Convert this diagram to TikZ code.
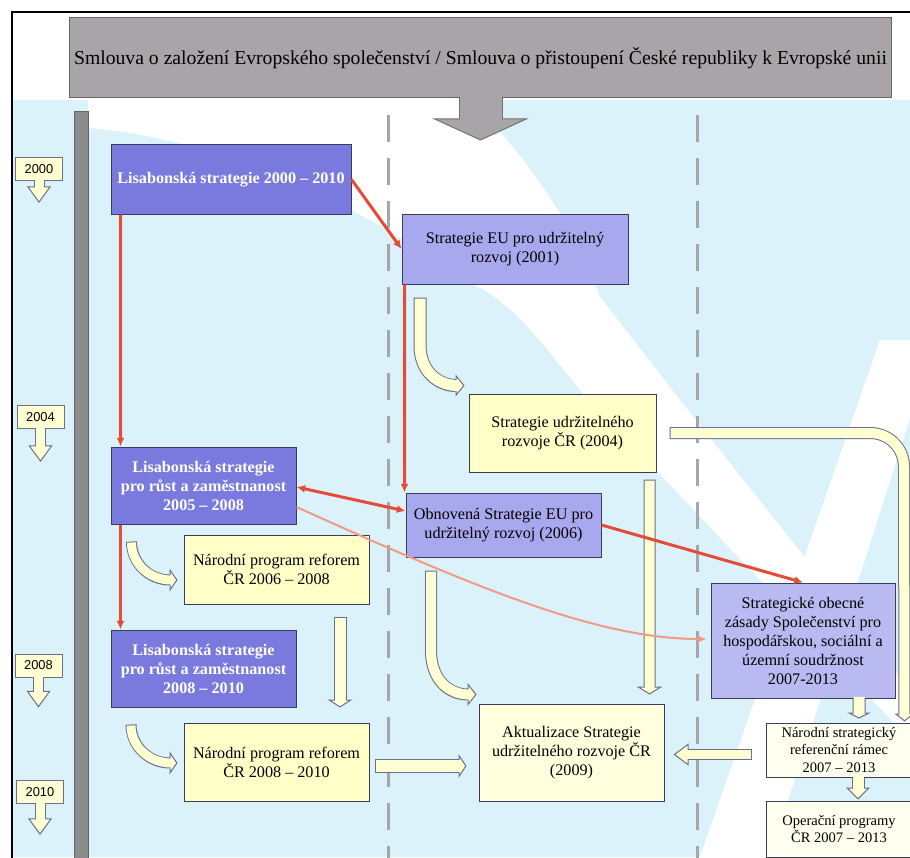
\documentclass[tikz,border=0pt]{standalone}
\usepackage{fontspec}
\setmainfont{Liberation Serif}
\newfontfamily\yearfont{Liberation Sans}
\usepackage{tikz}
\usetikzlibrary{arrows.meta,calc}

\definecolor{bgblue}{RGB}{220,242,251}
\definecolor{bannergray}{RGB}{168,164,168}
\definecolor{bargray}{RGB}{140,140,140}
\definecolor{lisblue}{RGB}{122,122,222}
\definecolor{eulav}{RGB}{168,168,238}
\definecolor{sozlav}{RGB}{186,186,243}
\definecolor{cryellow}{RGB}{255,255,200}
\definecolor{paleyellow}{RGB}{255,255,222}
\definecolor{ivory}{RGB}{255,255,240}
\definecolor{boxline}{RGB}{60,60,90}
\definecolor{arrowline}{RGB}{110,110,140}
\definecolor{arrowfill}{RGB}{255,255,212}
\definecolor{strongred}{RGB}{230,75,55}
\definecolor{softred}{RGB}{240,155,135}
\definecolor{dashgray}{RGB}{165,165,172}

\newcommand{\boxfont}{\fontsize{13.8}{16.2}\selectfont}
\newcommand{\smallboxfont}{\fontsize{12.4}{14.6}\selectfont}
\newcommand{\bannerfont}{\fontsize{16.8}{20}\selectfont}

\tikzset{
	plainbox/.style={draw=boxline, line width=0.3mm, inner sep=0pt, align=center, font=\boxfont},
	lisbox/.style={plainbox, fill=lisblue, text=white, font=\boxfont\bfseries},
	eubox/.style={plainbox, fill=eulav},
	sozbox/.style={plainbox, fill=sozlav},
	crbox/.style={plainbox, fill=cryellow},
	akbox/.style={plainbox, fill=paleyellow},
	nsbox/.style={plainbox, fill=ivory, font=\smallboxfont},
	banner/.style={draw=black!60, fill=bannergray, line width=0.3mm, inner sep=0pt, font=\bannerfont},
	yearbox/.style={draw=arrowline, fill=arrowfill, line width=0.3mm, inner sep=0pt, minimum width=14.1mm, minimum height=6.9mm, font=\yearfont\fontsize{11}{12}\selectfont},
	blockarr/.style n args={4}{draw=arrowline, line width=#1, -{Triangle[length=#3, width=#2, line width=0.3mm, fill=arrowfill]},
		postaction={draw=arrowfill, line width=#1-0.6mm, -, shorten >=#3-0.45mm, shorten <=#4}},
	redarrow/.style={draw=strongred, line width=0.9mm, -{Latex[length=2.6mm,width=2.4mm]}},
	redpair/.style={draw=strongred, line width=0.9mm, {Latex[length=2.6mm,width=2.4mm]}-{Latex[length=2.6mm,width=2.4mm]}},
	pinkarrow/.style={draw=softred, line width=0.6mm, -{Latex[length=2.6mm,width=2.4mm]}},
	dashline/.style={draw=dashgray, line width=0.9mm, dash pattern=on 8.1mm off 4.8mm}
}

\begin{document}
\begin{tikzpicture}[x=0.3mm,y=-0.3mm]

	\useasboundingbox (0,0) rectangle (910,857);
	\clip (0,0) rectangle (910,857);
	\fill[white] (0,0) rectangle (910,857);
	\fill[bgblue] (12,100) rectangle (910,857);

	\fill[white] (88,100) -- (470,100) .. controls (540,170) and (580,240) .. (600,297) -- (680,400) -- (910,690) -- (910,740)
		-- (760,580) -- (580,390) .. controls (540,340) and (510,300) .. (470,283) -- (383,227) .. controls (280,170) and (180,135) .. (88,128) -- cycle;
	\fill[white] (880,340) -- (935,340) -- (770,857) -- (700,857) -- cycle;

	\foreach \xx in {388,697}
		\draw[dashline] (\xx,115) -- (\xx,870);
	\draw[draw=black!60, fill=bargray, line width=0.3mm] (74,112) rectangle (88,870);
	\draw[line width=0.6mm] (12,870) -- (12,12) -- (920,12);

	\node[banner, minimum width=246.3mm, minimum height=24mm] (treaty) at (480.5,58) {Smlouva o založení Evropského společenství / Smlouva o přistoupení České republiky k Evropské unii};
	\draw[draw=black!55, line width=13.2mm, -{Triangle[length=6.6mm, width=28.8mm, line width=0.3mm, fill=bannergray]},
		postaction={draw=bannergray, line width=12.6mm, -, shorten >=6.15mm, shorten <=-0.3mm}] (treaty.south) -- ++(0,42);

	\foreach \yr/\xx/\yy/\ln in {2000/39/169/22,2004/40.5/417/33,2008/38.5/665.5/30,2010/40/792/31}{
		\node[yearbox] (y\yr) at (\xx,\yy) {\yr};
		\draw[blockarr={3.3mm}{7.2mm}{5mm}{-0.5mm}] (y\yr.south) -- ++(0,\ln);
	}

	\node[lisbox, minimum width=72mm, minimum height=20.7mm] (ls1) at (231,179.5) {Lisabonská strategie 2000 – 2010};
	\node[eubox, minimum width=67.8mm, minimum height=21mm] (seu) at (515,249) {Strategie EU pro udržitelný\\rozvoj (2001)};
	\node[crbox, minimum width=56.1mm, minimum height=23.4mm] (sur) at (562.5,433) {Strategie udržitelného\\rozvoje ČR (2004)};
	\node[lisbox, minimum width=55.5mm, minimum height=23.1mm] (ls2) at (203.5,485.5) {Lisabonská strategie\\pro růst a zaměstnanost\\2005 – 2008};
	\node[eubox, minimum width=58.5mm, minimum height=19.2mm] (oseu) at (503.5,525) {Obnovená Strategie EU pro\\udržitelný rozvoj (2006)};
	\node[crbox, minimum width=55.5mm, minimum height=20.7mm] (npr1) at (276.5,569.5) {Národní program reforem\\ČR 2006 – 2008};
	\node[lisbox, minimum width=55.5mm, minimum height=23.1mm] (ls3) at (203.5,668.5) {Lisabonská strategie\\pro růst a zaměstnanost\\2008 – 2010};
	\node[crbox, minimum width=55.5mm, minimum height=23.4mm] (npr2) at (276.5,762) {Národní program reforem\\ČR 2008 – 2010};
	\node[akbox, minimum width=55.5mm, minimum height=29.1mm] (akt) at (571.5,752.5) {Aktualizace Strategie\\udržitelného rozvoje ČR\\(2009)};
	\node[sozbox, minimum width=55.2mm, minimum height=34.5mm] (soz) at (803,640.5) {Strategické obecné\\zásady Společenství pro\\hospodářskou, sociální a\\územní soudržnost\\2007-2013};
	\node[nsbox, minimum width=43.8mm, minimum height=16.2mm] (nsrr) at (839,750) {Národní strategický\\referenční rámec\\2007 – 2013};
	\node[nsbox, minimum width=43.8mm, minimum height=16.8mm] (op) at (839,829) {Operační programy\\ČR 2007 – 2013};

	\coordinate (corner) at (904,433);
	\draw[blockarr={3.9mm}{6.6mm}{2.7mm}{0.3mm}] ($(seu.south west)+(18.5,13)$) -- ++(0,48) .. controls +(0,27) and +(-25,0) .. ($(sur.north west)+(-4,-8)$);
	\draw[blockarr={3.3mm}{6.9mm}{2.4mm}{0.3mm}] ($(ls2.south west)+(21,17)$) .. controls +(0,22) and +(-28,0) .. ($(npr1.west)+(-6,10.5)$);
	\draw[blockarr={3.3mm}{6.9mm}{2.4mm}{0.3mm}] ($(ls3.south west)+(20.5,17)$) .. controls +(0,22) and +(-28,0) .. ($(npr2.west)+(-6,1)$);
	\draw[blockarr={3.6mm}{6.9mm}{2.7mm}{0.3mm}] ($(oseu.south west)+(25.5,13)$) -- ++(0,80) .. controls +(0,30) and +(-27,0) .. ($(akt.north west)+(-2,-9)$);
	\draw[blockarr={3.6mm}{7.8mm}{2.4mm}{0.3mm}] ($(sur.south east)+(-7,7)$) -- ($(akt.north east)+(-15,-9)$);
	\draw[blockarr={3.9mm}{7.5mm}{2.4mm}{0.3mm}] ($(npr1.south east)+(-29.5,12)$) -- ($(npr2.north east)+(-29.5,-15)$);
	\draw[blockarr={4.2mm}{7.2mm}{2.4mm}{0.3mm}] ($(npr2.east)+(5,4)$) -- ($(akt.west)+(-12,13.5)$);
	\draw[blockarr={3.3mm}{6.6mm}{4.5mm}{0.3mm}] ($(nsrr.west)+(-14,4.5)$) -- ($(akt.east)+(9,2)$);
	\draw[blockarr={3.9mm}{7.2mm}{1.8mm}{-0.5mm}] ($(soz.south east)+(-36.5,0)$) -- ($(nsrr.north east)+(-53.5,-4)$);
	\draw[blockarr={3.9mm}{7.2mm}{3.6mm}{-0.5mm}] ($(nsrr.south east)+(-54.5,0)$) -- ($(op.north east)+(-54.5,-1)$);
	\draw[blockarr={3.6mm}{6mm}{2.4mm}{0.3mm}] ($(sur.east)+(13,0)$) -- ($(corner)+(-34,0)$) .. controls +(19,0) and +(0,-19) .. ($(corner)+(0,34)$) -- ($(nsrr.north east)+(-8,-1)$);

	\draw[redarrow] ($(ls1.south west)+(10,0)$) -- ($(ls2.north west)+(10,0)$);
	\draw[redarrow] ($(ls2.south west)+(10,0)$) -- ($(ls3.north west)+(10,0)$);
	\draw[redarrow] (ls1.east) -- (seu.west);
	\draw[redarrow] ($(seu.south west)+(3,0)$) -- ($(oseu.north west)+(-1,0)$);
	\draw[redpair] ($(ls2.east)+(0,1.5)$) -- ($(oseu.west)+(0,-14)$);
	\draw[redarrow] (oseu.east) -- (soz.north);
	\draw[pinkarrow] ($(ls2.east)+(0,21.5)$) .. controls (480,590) and (600,639) .. ($(soz.west)+(-4,-1.5)$);

\end{tikzpicture}
\end{document}
